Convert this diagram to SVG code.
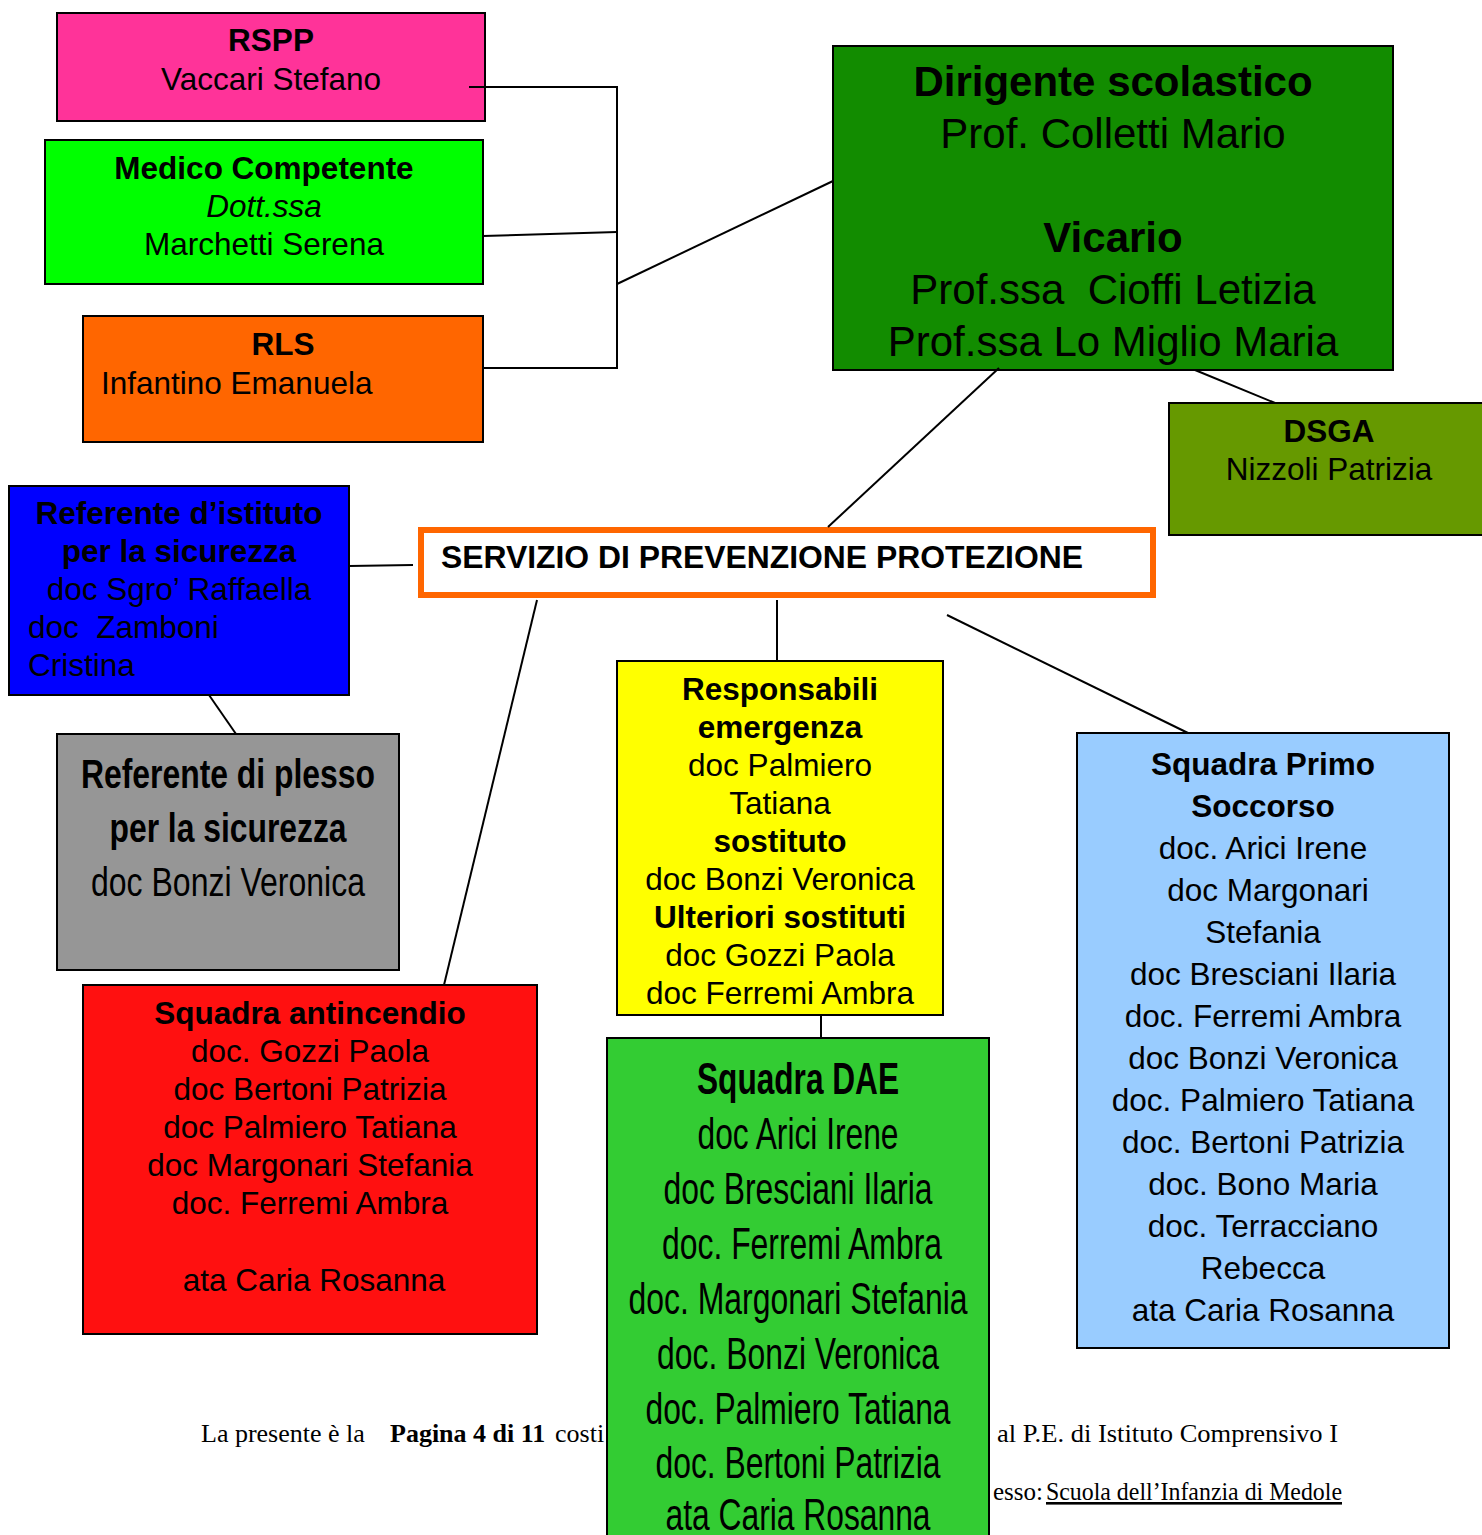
<svg xmlns="http://www.w3.org/2000/svg" width="1482" height="1535" viewBox="0 0 1482 1535">
<style>
.box{stroke:#000;stroke-width:2}
.t{font-family:"Liberation Sans",Arial,sans-serif;font-size:31.5px;fill:#000}
.b{font-weight:bold}
.i{font-style:italic}
.c{text-anchor:middle}
.big{font-size:42px}
.n{font-family:"Liberation Sans Narrow","Liberation Sans",Arial,sans-serif;font-size:40px}
.dae{font-size:44px}
.ft{font-family:"Liberation Serif","Times New Roman",serif;font-size:26px;fill:#000}
.ln{stroke:#000;stroke-width:2;fill:none}
</style>
<rect width="1482" height="1535" fill="#fff"/>
<g id="footer">
<text class="ft" x="201" y="1442">La presente è la</text>
<text class="ft" x="390" y="1442" font-weight="bold">Pagina 4 di 11</text>
<text class="ft" x="555" y="1442">costi</text>
<text class="ft" x="997" y="1442" textLength="341" lengthAdjust="spacingAndGlyphs">al P.E. di Istituto Comprensivo I</text>
<text class="ft" x="993" y="1500" textLength="50" lengthAdjust="spacingAndGlyphs">esso:</text>
<text class="ft" x="1046" y="1500" text-decoration="underline" textLength="296" lengthAdjust="spacingAndGlyphs">Scuola dell’Infanzia di Medole</text>
</g>
<g id="rspp">
<rect class="box" x="57" y="13" width="428" height="108" fill="#FF3399"/>
<text class="t b c" x="271" y="51">RSPP</text>
<text class="t c" x="271" y="90">Vaccari Stefano</text>
</g>
<g id="medico">
<rect class="box" x="45" y="140" width="438" height="144" fill="#00FF00"/>
<text class="t b c" x="264" y="179">Medico Competente</text>
<text class="t i c" x="264" y="217">Dott.ssa</text>
<text class="t c" x="264" y="255">Marchetti Serena</text>
</g>
<g id="rls">
<rect class="box" x="83" y="316" width="400" height="126" fill="#FF6600"/>
<text class="t b c" x="283" y="355">RLS</text>
<text class="t" x="101" y="394">Infantino Emanuela</text>
</g>
<g id="dirigente">
<rect class="box" x="833" y="46" width="560" height="324" fill="#128C00"/>
<text class="t big b c" x="1113" y="96">Dirigente scolastico</text>
<text class="t big c" x="1113" y="148">Prof. Colletti Mario</text>
<text class="t big b c" x="1113" y="252">Vicario</text>
<text class="t big c" x="1113" y="304" xml:space="preserve" style="white-space:pre">Prof.ssa  Cioffi Letizia</text>
<text class="t big c" x="1113" y="356">Prof.ssa Lo Miglio Maria</text>
</g>
<g id="dsga">
<rect class="box" x="1169" y="403" width="320" height="132" fill="#669900"/>
<text class="t b c" x="1329" y="442">DSGA</text>
<text class="t c" x="1329" y="480">Nizzoli Patrizia</text>
</g>
<g id="servizio">
<rect x="421" y="530" width="732" height="65" fill="#fff" stroke="#FF6600" stroke-width="6"/>
<text class="t b" x="441" y="568" font-size="32" textLength="642" lengthAdjust="spacingAndGlyphs">SERVIZIO DI PREVENZIONE PROTEZIONE</text>
</g>
<g id="ref-istituto">
<rect class="box" x="9" y="486" width="340" height="209" fill="#0000FF"/>
<text class="t b c" x="179" y="524">Referente d’istituto</text>
<text class="t b c" x="179" y="562">per la sicurezza</text>
<text class="t c" x="179" y="600">doc Sgro’ Raffaella</text>
<text class="t" x="28" y="638" xml:space="preserve" style="white-space:pre">doc  Zamboni</text>
<text class="t" x="28" y="676">Cristina</text>
</g>
<g id="ref-plesso">
<rect class="box" x="57" y="734" width="342" height="236" fill="#969696"/>
<text class="t n b c" x="228" y="788" textLength="294" lengthAdjust="spacingAndGlyphs">Referente di plesso</text>
<text class="t n b c" x="228" y="842" textLength="237" lengthAdjust="spacingAndGlyphs">per la sicurezza</text>
<text class="t n c" x="228" y="896" textLength="274" lengthAdjust="spacingAndGlyphs">doc Bonzi Veronica</text>
</g>
<g id="responsabili">
<rect class="box" x="617" y="661" width="326" height="354" fill="#FFFF00"/>
<text class="t b c" x="780" y="700">Responsabili</text>
<text class="t b c" x="780" y="738">emergenza</text>
<text class="t c" x="780" y="776">doc Palmiero</text>
<text class="t c" x="780" y="814">Tatiana</text>
<text class="t b c" x="780" y="852">sostituto</text>
<text class="t c" x="780" y="890">doc Bonzi Veronica</text>
<text class="t b c" x="780" y="928">Ulteriori sostituti</text>
<text class="t c" x="780" y="966">doc Gozzi Paola</text>
<text class="t c" x="780" y="1004">doc Ferremi Ambra</text>
</g>
<g id="primo-soccorso">
<rect class="box" x="1077" y="733" width="372" height="615" fill="#99CCFF"/>
<text class="t b c" x="1263" y="775">Squadra Primo</text>
<text class="t b c" x="1263" y="817">Soccorso</text>
<text class="t c" x="1263" y="859">doc. Arici Irene</text>
<text class="t c" x="1268" y="901">doc Margonari</text>
<text class="t c" x="1263" y="943">Stefania</text>
<text class="t c" x="1263" y="985">doc Bresciani Ilaria</text>
<text class="t c" x="1263" y="1027">doc. Ferremi Ambra</text>
<text class="t c" x="1263" y="1069">doc Bonzi Veronica</text>
<text class="t c" x="1263" y="1111">doc. Palmiero Tatiana</text>
<text class="t c" x="1263" y="1153">doc. Bertoni Patrizia</text>
<text class="t c" x="1263" y="1195">doc. Bono Maria</text>
<text class="t c" x="1263" y="1237">doc. Terracciano</text>
<text class="t c" x="1263" y="1279">Rebecca</text>
<text class="t c" x="1263" y="1321">ata Caria Rosanna</text>
</g>
<g id="antincendio">
<rect class="box" x="83" y="985" width="454" height="349" fill="#FF1010"/>
<text class="t b c" x="310" y="1024">Squadra antincendio</text>
<text class="t c" x="310" y="1062">doc. Gozzi Paola</text>
<text class="t c" x="310" y="1100">doc Bertoni Patrizia</text>
<text class="t c" x="310" y="1138">doc Palmiero Tatiana</text>
<text class="t c" x="310" y="1176">doc Margonari Stefania</text>
<text class="t c" x="310" y="1214">doc. Ferremi Ambra</text>
<text class="t c" x="314" y="1291">ata Caria Rosanna</text>
</g>
<g id="dae">
<rect class="box" x="607" y="1038" width="382" height="510" fill="#33CC33"/>
<text class="t n dae b c" x="798" y="1094" textLength="202" lengthAdjust="spacingAndGlyphs">Squadra DAE</text>
<text class="t n dae c" x="798" y="1149" textLength="201" lengthAdjust="spacingAndGlyphs">doc Arici Irene</text>
<text class="t n dae c" x="798" y="1204" textLength="269" lengthAdjust="spacingAndGlyphs">doc Bresciani Ilaria</text>
<text class="t n dae c" x="802" y="1259" textLength="280" lengthAdjust="spacingAndGlyphs">doc. Ferremi Ambra</text>
<text class="t n dae c" x="798" y="1314" textLength="339" lengthAdjust="spacingAndGlyphs">doc. Margonari Stefania</text>
<text class="t n dae c" x="798" y="1369" textLength="282" lengthAdjust="spacingAndGlyphs">doc. Bonzi Veronica</text>
<text class="t n dae c" x="798" y="1424" textLength="305" lengthAdjust="spacingAndGlyphs">doc. Palmiero Tatiana</text>
<text class="t n dae c" x="798" y="1478" textLength="285" lengthAdjust="spacingAndGlyphs">doc. Bertoni Patrizia</text>
<text class="t n dae c" x="798" y="1530" textLength="265" lengthAdjust="spacingAndGlyphs">ata Caria Rosanna</text>
</g>
<g id="connectors">
<polyline class="ln" points="469,87 617,87 617,368 483,368"/>
<line class="ln" x1="483" y1="236" x2="617" y2="232"/>
<line class="ln" x1="617" y1="284" x2="833" y2="181"/>
<line class="ln" x1="999" y1="368" x2="828" y2="527"/>
<line class="ln" x1="1195" y1="370" x2="1275" y2="403"/>
<line class="ln" x1="349" y1="566" x2="413" y2="565"/>
<line class="ln" x1="209" y1="695" x2="236" y2="734"/>
<line class="ln" x1="537" y1="600" x2="444" y2="985"/>
<line class="ln" x1="777" y1="600" x2="777" y2="661"/>
<line class="ln" x1="947" y1="615" x2="1188" y2="733"/>
<line class="ln" x1="821" y1="1015" x2="821" y2="1038"/>
</g>
</svg>
